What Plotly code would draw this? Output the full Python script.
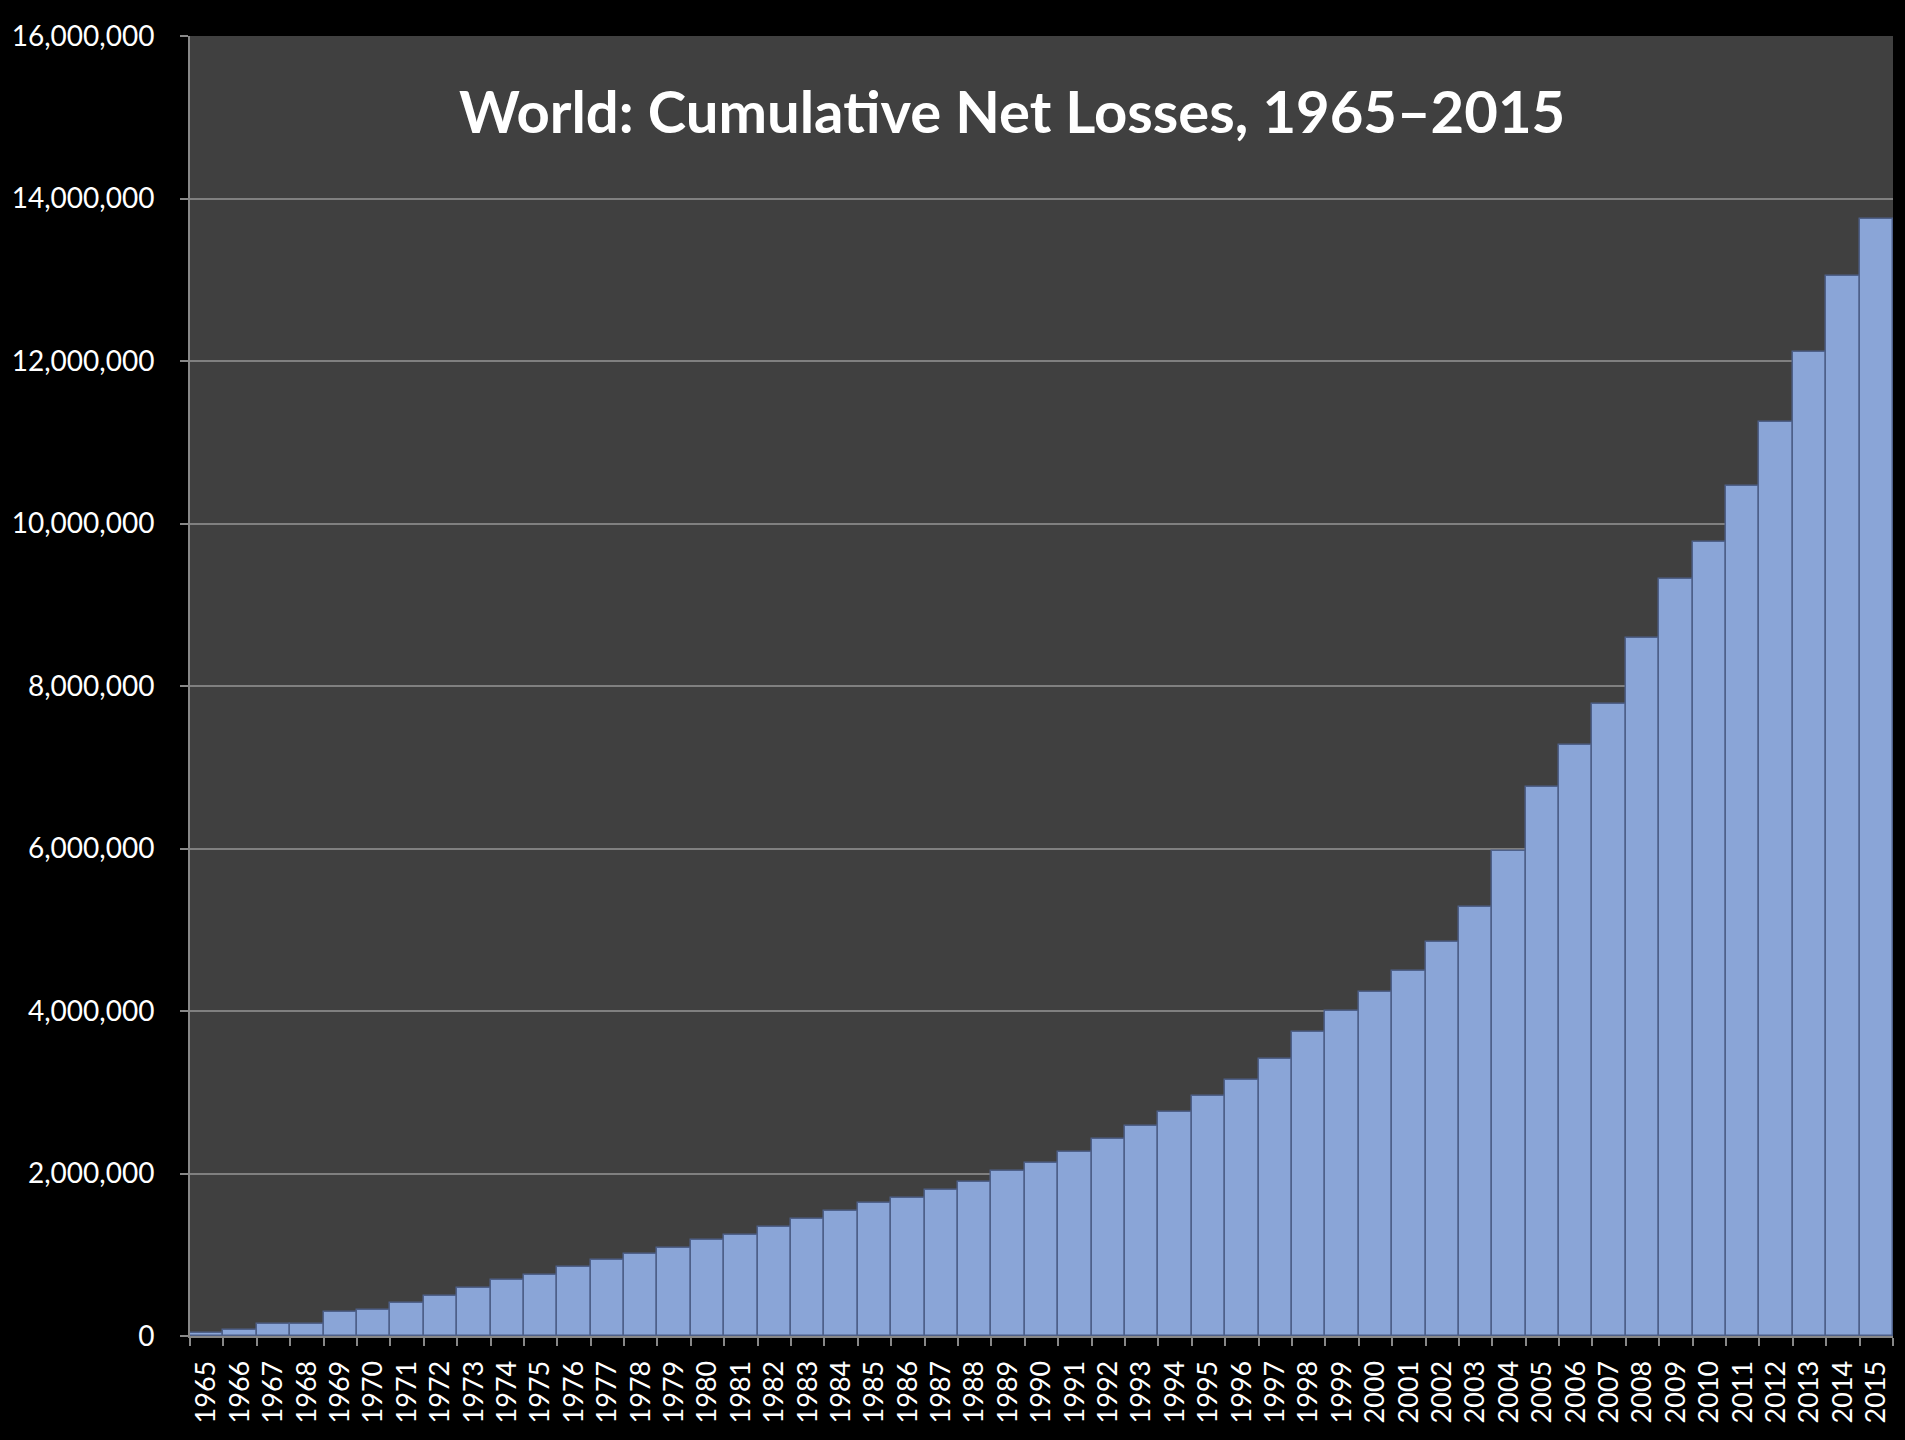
import plotly.graph_objects as go

years = [str(y) for y in range(1965, 2016)]
cumulative_losses = [
    40000, 80000, 150000, 150000, 290000, 320000, 410000, 490000, 590000, 690000,
    750000, 850000, 940000, 1010000, 1080000, 1180000, 1240000, 1340000, 1440000, 1540000,
    1640000, 1700000, 1800000, 1900000, 2030000, 2130000, 2260000, 2420000, 2580000, 2760000,
    2950000, 3150000, 3410000, 3740000, 4000000, 4230000, 4490000, 4850000, 5280000, 5970000,
    6760000, 7280000, 7780000, 8590000, 9320000, 9770000, 10460000, 11250000, 12110000, 13050000,
    13750000,
]
y_tick_values = [0, 2000000, 4000000, 6000000, 8000000, 10000000, 12000000, 14000000, 16000000]
title_text = "World: Cumulative Net Losses, 1965\u20132015"

fig = go.Figure()
fig.add_trace(go.Bar(
    x=years,
    y=cumulative_losses,
    marker=dict(color="#8AA5D7", line=dict(color="#4E6089", width=1.5)),
    showlegend=False,
))

fig.update_layout(
    width=1905, height=1440,
    margin=dict(l=185, r=12, t=36, b=104),
    paper_bgcolor="black",
    plot_bgcolor="#404040",
    bargap=0.0,
    annotations=[dict(
        text=title_text, xref="paper", yref="paper",
        x=0.4825, y=0.943, xanchor="center", yanchor="middle",
        showarrow=False,
        font=dict(family="Lato", size=58, color="white", weight="bold"),
    )],
)

fig.update_xaxes(
    type="category",
    tickangle=-90,
    tickfont=dict(family="Lato", size=27, color="white"),
    showline=True, linecolor="#888888", linewidth=2,
    ticks="outside", ticklen=8, tickcolor="#888888", tickwidth=2,
    tickson="boundaries",
    ticklabelstandoff=12,
    showgrid=False,
)
fig.update_yaxes(
    range=[0, 16000000],
    tickvals=y_tick_values,
    tickformat=",d",
    tickfont=dict(family="Lato", size=28, color="white"),
    showline=True, linecolor="#888888", linewidth=2,
    ticks="outside", ticklen=8, tickcolor="#888888", tickwidth=2,
    ticklabelstandoff=20,
    showgrid=True, gridcolor="#808080", gridwidth=2,
    zeroline=False,
)

fig.write_html(
    "out.html",
    config={"displayModeBar": False},
    post_script="document.body.style.margin='0';document.body.style.background='black';",
)
